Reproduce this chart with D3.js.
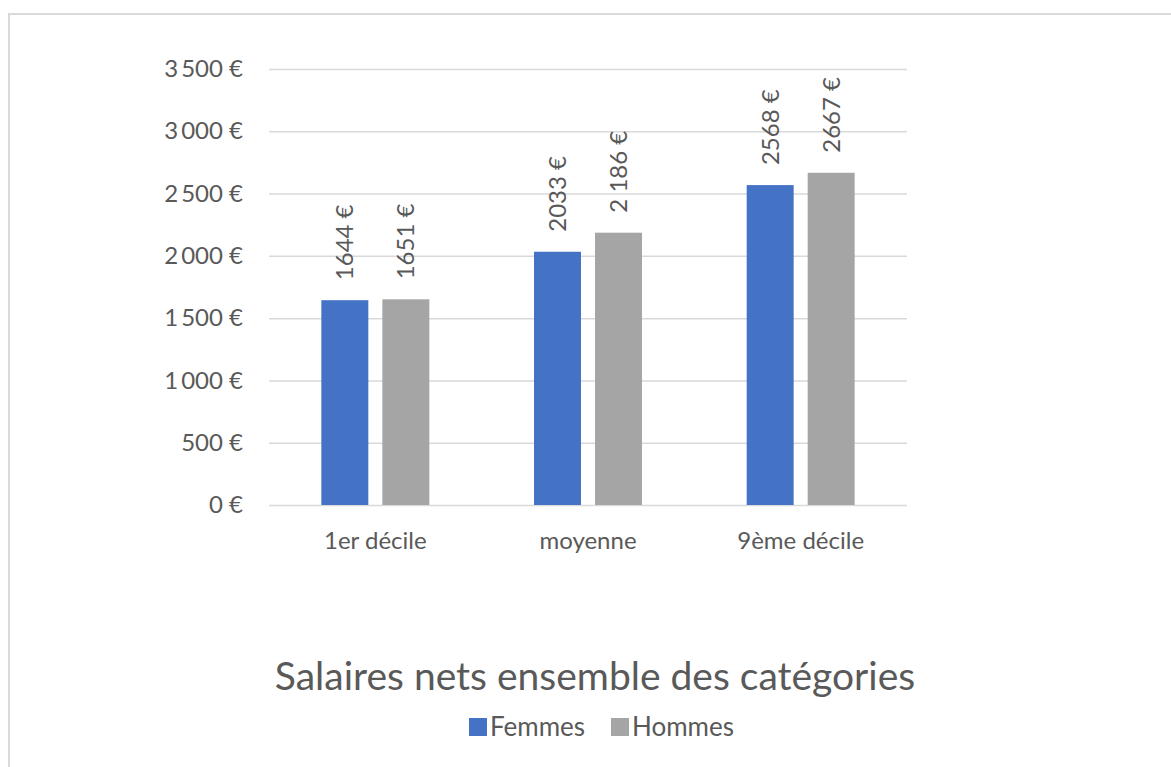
<!DOCTYPE html>
<html>
<head>
<meta charset="utf-8">
<script src="https://cdn.jsdelivr.net/npm/d3@7"></script>
<style>
  html, body { margin: 0; padding: 0; background: #fff; }
  svg { display: block; }
  svg text { font-family: Lato, "Open Sans", sans-serif; }
</style>
</head>
<body>
<div id="chart"></div>
<script>
const categories = ["1er décile", "moyenne", "9ème décile"];
const series = ["Femmes", "Hommes"];
const femmes = [1644, 2033, 2568];
const hommes = [1651, 2186, 2667];
const femmesLabels = ["1644 €", "2033 €", "2568 €"];
const hommesLabels = ["1651 €", "2 186 €", "2667 €"];
const yTicks = [0, 500, 1000, 1500, 2000, 2500, 3000, 3500];
const title = "Salaires nets ensemble des catégories";

const colors = { Femmes: "#4472c4", Hommes: "#a5a5a5" };
const textColor = "#595959";
const gridColor = "#d9d9d9";

const width = 1171, height = 767;
const plot = { left: 269, right: 907, top: 69, bottom: 505 };

const svg = d3.select("#chart").append("svg")
  .attr("width", width).attr("height", height);

// outer frame (only top and left edges visible)
svg.append("path")
  .attr("d", `M9,${height + 5}V14H${width + 5}`)
  .attr("fill", "none")
  .attr("stroke", "#d9d9d9")
  .attr("stroke-width", 2);

const y = d3.scaleLinear().domain([0, 3500]).range([plot.bottom, plot.top]);
const x = d3.scaleBand().domain(categories).range([plot.left, plot.right]).padding(0);
const xSub = d3.scaleBand().domain(series).range([0, x.bandwidth()])
  .paddingInner(0.23).paddingOuter(0.858);

const fmtTick = v => (v >= 1000 ? d3.format(",")(v).replace(",", "\u2009") : v) + " €";

// gridlines + y labels
const yAxis = d3.axisLeft(y).tickValues(yTicks).tickSize(-(plot.right - plot.left))
  .tickPadding(26).tickFormat(fmtTick);
const gy = svg.append("g").attr("transform", `translate(${plot.left},0)`).call(yAxis)
  .attr("font-family", null);
gy.select(".domain").remove();
gy.selectAll(".tick line").attr("stroke", gridColor).attr("stroke-width", 1.5);
gy.selectAll(".tick text").attr("fill", textColor).style("font-size", "24px");

// x labels
const xAxis = d3.axisBottom(x).tickSize(0).tickPadding(0);
const gx = svg.append("g").attr("transform", `translate(0,${plot.bottom})`).call(xAxis)
  .attr("font-family", null);
gx.select(".domain").remove();
gx.selectAll(".tick text").attr("fill", textColor).style("font-size", "24px")
  .attr("dy", null).attr("y", 44);

const rows = categories.map((c, i) => ({
  cat: c,
  vals: [
    { key: "Femmes", v: femmes[i], label: femmesLabels[i] },
    { key: "Hommes", v: hommes[i], label: hommesLabels[i] }
  ]
}));

const groups = svg.append("g").selectAll("g").data(rows).join("g")
  .attr("transform", d => `translate(${x(d.cat)},0)`);

groups.selectAll("rect").data(d => d.vals).join("rect")
  .attr("x", d => xSub(d.key))
  .attr("y", d => y(d.v))
  .attr("width", xSub.bandwidth())
  .attr("height", d => y(0) - y(d.v))
  .attr("fill", d => colors[d.key]);

groups.selectAll("text.lbl").data(d => d.vals).join("text")
  .attr("class", "lbl")
  .attr("transform", d => `translate(${xSub(d.key) + xSub.bandwidth() / 2},${y(d.v) - 20}) rotate(-90)`)
  .attr("dy", "0.35em")
  .attr("text-anchor", "start")
  .attr("fill", textColor)
  .style("font-size", "24px")
  .text(d => d.label);

// title
const cx = (plot.left + plot.right) / 2 + 7;
svg.append("text")
  .attr("x", cx).attr("y", 690)
  .attr("text-anchor", "middle")
  .attr("fill", textColor)
  .style("font-size", "39px")
  .text(title);

// legend
const legend = svg.append("g").attr("transform", `translate(469,718)`);
const items = legend.selectAll("g").data(series).join("g")
  .attr("transform", (d, i) => `translate(${i * 142},0)`);
items.append("rect").attr("width", 18).attr("height", 18).attr("fill", d => colors[d]);
items.append("text").attr("x", 21).attr("y", 9).attr("dy", "0.35em")
  .attr("fill", textColor).style("font-size", "26px").text(d => d);
</script>
</body>
</html>
